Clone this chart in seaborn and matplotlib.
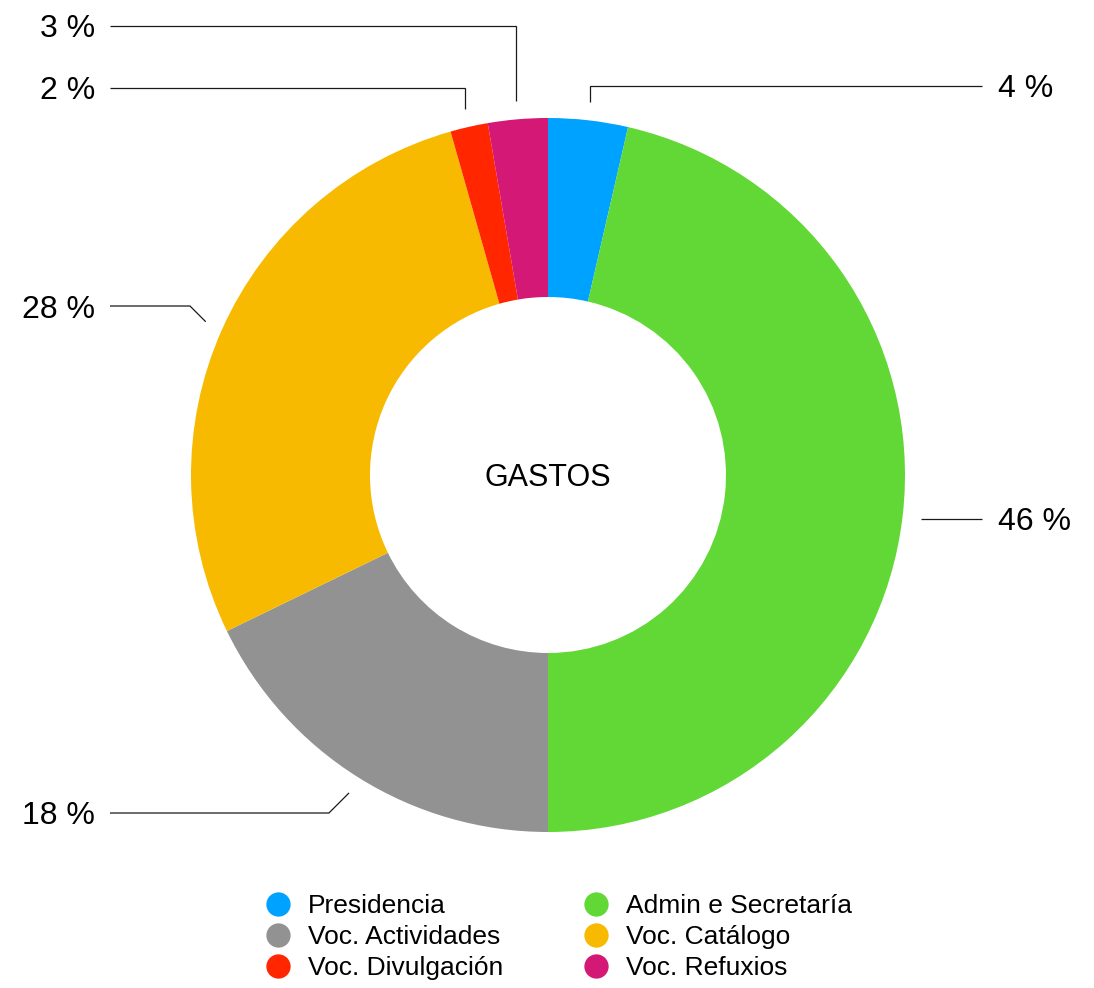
import numpy as np
import matplotlib
matplotlib.use("Agg")
import matplotlib.pyplot as plt
from matplotlib.lines import Line2D
import seaborn as sns

# ---- data ----
categories = ["Presidencia", "Admin e Secretaría", "Voc. Actividades",
              "Voc. Catálogo", "Voc. Divulgación", "Voc. Refuxios"]
values = [3.6, 46.4, 17.8, 27.8, 1.7, 2.7]
colors = ["#00A2FF", "#61D836", "#929292", "#F8BA00", "#FF2600", "#D31876"]
center_title = "GASTOS"

sns.set_theme(style="white")
plt.rcParams['font.family'] = ['Liberation Sans', 'DejaVu Sans']
palette = sns.color_palette(colors)

W, H = 1094, 988
fig = plt.figure(figsize=(W / 100, H / 100), dpi=100)
ax = fig.add_axes([0, 0, 1, 1])

cx, cy = 548, H - 475
R = 357
ring = 179
ax.pie(values, colors=palette, startangle=90, counterclock=False,
       center=(cx, cy), radius=R,
       wedgeprops=dict(width=ring, linewidth=0, edgecolor="none"))
ax.set_xlim(0, W)
ax.set_ylim(0, H)
ax.set_aspect("equal")
ax.set_axis_off()

ax.text(cx, cy - 11, center_title, ha="center", va="baseline", fontsize=22, color="black")

# ---- leader lines + labels (layout) ----
label_y_px = [86, 519, 813, 306, 88, 26]
label_side = ["right", "right", "left", "left", "left", "left"]
elbow_kind = ["vert", "horiz", "diag", "diag", "vert", "vert"]
r_anchor = 375
left_end, right_end = 110, 982
left_text, right_text = 95, 998
pct_size = 23

total = sum(values)
cum = 0.0
for i, v in enumerate(values):
    mid = cum + v / 2
    cum += v
    ang = np.deg2rad(90 - 360 * mid / total)
    axx = cx + r_anchor * np.cos(ang)
    axy = cy + r_anchor * np.sin(ang)
    ly = H - label_y_px[i]
    side = label_side[i]
    endx = right_end if side == "right" else left_end
    if elbow_kind[i] == "vert":
        xs, ys = [axx, axx, endx], [axy, ly, ly]
    elif elbow_kind[i] == "horiz":
        xs, ys = [axx, endx], [ly, ly]
    else:
        dy = abs(ly - axy)
        ex = axx + dy if side == "right" else axx - dy
        xs, ys = [axx, ex, endx], [axy, ly, ly]
    ax.plot(xs, ys, color="#1a1a1a", lw=0.9,
            solid_capstyle="butt", solid_joinstyle="miter")
    txt = f"{int(round(v))} %"
    ty = ly - 11.5
    if side == "right":
        ax.text(right_text, ty, txt, ha="left", va="baseline", fontsize=pct_size, color="black")
    else:
        ax.text(left_text, ty, txt, ha="right", va="baseline", fontsize=pct_size, color="black")

# ---- legend (row-major order in 2 columns) ----
order = [0, 2, 4, 1, 3, 5]
handles = [Line2D([0], [0], marker="o", linestyle="none", markersize=17.5,
                  markerfacecolor=palette[k], markeredgecolor="none",
                  label=categories[k]) for k in order]
leg = fig.legend(handles=handles, ncol=2, loc="center", bbox_to_anchor=(0.509, 1 - 937 / H),
                 frameon=False, fontsize=19, handletextpad=0.55, columnspacing=2.9,
                 labelspacing=0.27, handlelength=1.2, borderpad=0)
for t in leg.get_texts():
    t.set_color("black")

fig.savefig("out.png", dpi=100)
